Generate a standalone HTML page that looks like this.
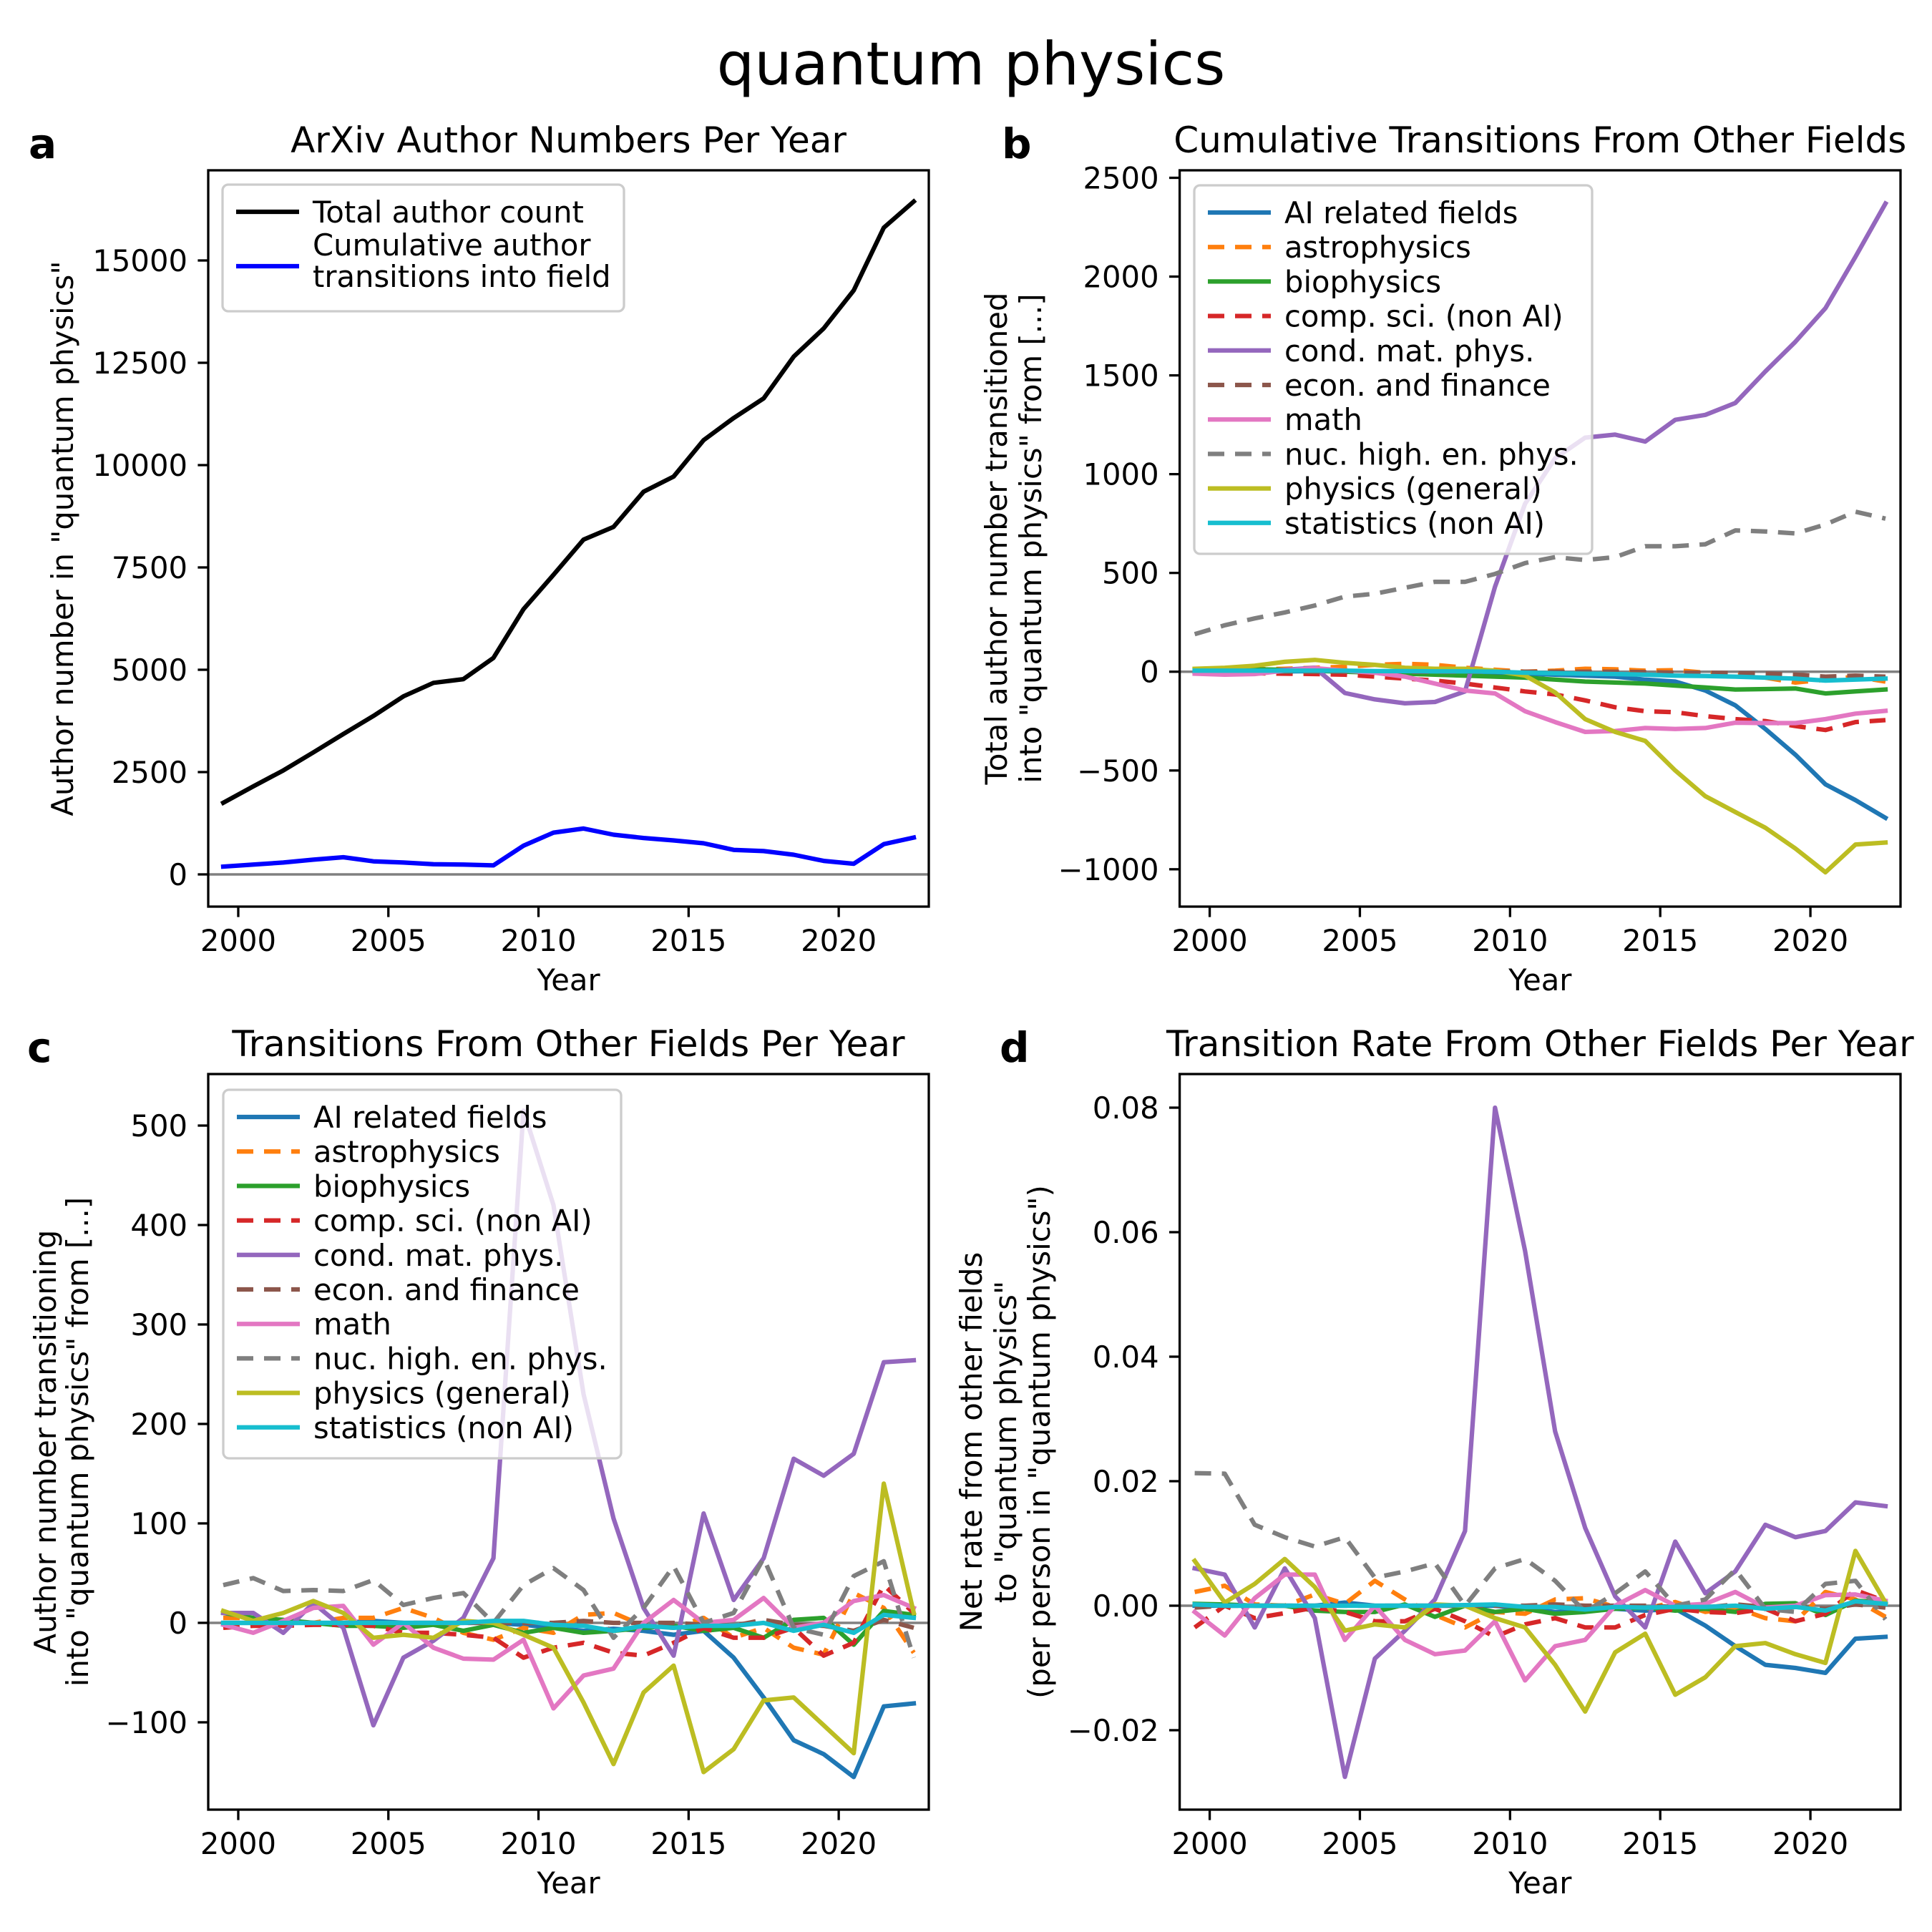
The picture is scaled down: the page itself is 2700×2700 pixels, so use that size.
<!DOCTYPE html>
<html><head><meta charset="utf-8"><style>
html,body{margin:0;padding:0;background:#fff;}
svg{display:block;font-family:"DejaVu Sans","Liberation Sans",sans-serif;}
</style></head><body>
<svg id="fig" width="2700" height="2700" viewBox="0 0 2700 2700" xmlns="http://www.w3.org/2000/svg">
<rect width="2700" height="2700" fill="#fff"/>
<text x="1357" y="118" font-size="83" text-anchor="middle">quantum physics</text>
</svg>
<script>
const years=[1999.5,2000.5,2001.5,2002.5,2003.5,2004.5,2005.5,2006.5,2007.5,2008.5,2009.5,2010.5,2011.5,2012.5,2013.5,2014.5,2015.5,2016.5,2017.5,2018.5,2019.5,2020.5,2021.5,2022.5];
const xTicks=[2000,2005,2010,2015,2020];
const fieldNames=["AI related fields","astrophysics","biophysics","comp. sci. (non AI)","cond. mat. phys.","econ. and finance","math","nuc. high. en. phys.","physics (general)","statistics (non AI)"];
// panel a
const totalAuthors=[1750,2150,2540,2980,3430,3870,4350,4680,4770,5290,6480,7320,8180,8490,9350,9720,10610,11150,11630,12650,13340,14270,15800,16440];
const cumTransitions=[190,240,290,360,420,320,290,250,240,220,700,1020,1120,970,890,830,760,600,570,480,330,260,740,900];
const aTicks=[0,2500,5000,7500,10000,12500,15000];
// panel b (cumulative)
const bAI=[0,0,0,2,3,2,0,0,0,0,-5,-10,-15,-20,-25,-40,-50,-95,-170,-290,-420,-570,-650,-740];
const bAstro=[5,10,12,15,20,25,35,40,35,20,10,0,5,15,12,5,8,-5,-15,-30,-55,-40,-25,-50];
const bBio=[10,12,12,10,5,0,-5,-10,-15,-20,-25,-30,-40,-50,-55,-60,-70,-80,-90,-88,-85,-110,-100,-90];
const bComp=[-3,-5,-8,-10,-12,-15,-25,-35,-45,-60,-80,-100,-115,-145,-180,-200,-205,-225,-240,-250,-275,-295,-255,-245];
const bCond=[0,-10,-5,10,20,-108,-140,-160,-153,-100,430,850,1080,1185,1200,1165,1275,1300,1360,1520,1670,1840,2100,2370];
const bEcon=[0,0,0,0,0,0,0,0,0,0,0,0,0,0,0,-2,-5,-5,-8,-10,-15,-25,-20,-25];
const bMath=[-10,-15,-12,5,18,5,-5,-25,-60,-95,-110,-200,-255,-305,-300,-285,-290,-285,-258,-260,-260,-240,-212,-198];
const bNuc=[190,235,270,300,335,380,395,425,455,455,495,550,580,565,580,635,635,645,715,710,700,745,810,775];
const bPhys=[15,20,30,50,60,45,35,20,15,15,5,-20,-105,-240,-305,-350,-500,-630,-710,-790,-895,-1015,-875,-865];
const bStat=[5,5,5,5,5,5,3,3,2,2,0,-5,-8,-10,-12,-15,-20,-22,-25,-30,-35,-45,-40,-35];
const bTicks=[-1000,-500,0,500,1000,1500,2000,2500];
// panel c (per year)
const cAI=[0,0,0,0,0,2,0,0,0,0,-2,-5,-8,-6,-8,-12,-8,-35,-75,-118,-132,-155,-84,-81];
const cAstro=[5,5,2,0,5,5,15,5,-10,-17,-5,-10,8,10,-3,-5,5,-15,-5,-25,-32,30,15,-30];
const cBio=[10,5,3,0,-3,-3,-5,-2,-8,-2,-10,-5,-10,-8,-5,-3,-8,-5,-15,3,5,-22,12,8];
const cComp=[-5,-3,-3,-2,-2,-3,-10,-10,-12,-15,-35,-25,-20,-30,-33,-20,-5,-15,-15,-5,-33,-20,38,10];
const cCond=[10,10,-10,20,-5,-103,-35,-18,5,65,515,420,230,105,15,-33,110,23,65,165,148,170,262,264];
const cEcon=[0,0,0,0,0,0,0,0,0,0,0,0,2,0,0,0,-2,-3,3,-2,-3,-8,3,-5];
const cMath=[-2,-10,2,15,17,-22,0,-25,-36,-37,-17,-86,-53,-46,0,23,0,3,25,-5,0,22,28,15];
const cNuc=[38,45,32,33,32,43,18,25,30,0,38,55,33,-15,15,57,0,10,65,-5,-12,47,62,-35];
const cPhys=[12,2,10,22,10,-15,-12,-15,2,0,-12,-25,-80,-142,-70,-43,-150,-127,-78,-75,-103,-131,140,10];
const cStat=[0,0,0,0,0,0,0,0,0,2,2,-2,-3,-8,-3,-5,-3,-3,0,-8,-2,-10,8,5];
const cTicks=[-100,0,100,200,300,400,500];
// panel d (rate)
const dAI=[0,0,0,0,0,0.0005,0,0,0,0,0,-0.0005,-0.001,-0.0008,-0.0005,-0.0008,-0.0005,-0.0032,-0.0065,-0.0095,-0.01,-0.0108,-0.0053,-0.005];
const dAstro=[0.0022,0.0032,0.0002,0,0.0018,0.0003,0.004,0.001,-0.0015,-0.0035,-0.001,-0.0013,0.001,0.0012,-0.0002,-0.0005,0.0006,-0.001,-0.0003,-0.002,-0.0025,0.0022,0.001,-0.0018];
const dBio=[0.0003,0.0002,0,0,-0.0008,-0.001,-0.001,0.0002,-0.0018,0,-0.001,-0.0005,-0.0013,-0.001,-0.0005,-0.0003,-0.0008,-0.0005,-0.001,0.0003,0.0004,-0.0015,0.0008,0.0005];
const dComp=[-0.0035,0,-0.002,-0.0012,-0.0003,-0.001,-0.0025,-0.0025,-0.0005,-0.0025,-0.005,-0.003,-0.002,-0.0035,-0.0035,-0.0015,-0.0005,-0.001,-0.0012,-0.0005,-0.0025,-0.0013,0.0025,0.0007];
const dCond=[0.006,0.005,-0.0035,0.006,-0.002,-0.0275,-0.0085,-0.004,0.001,0.012,0.080,0.057,0.028,0.0125,0.0015,-0.0035,0.0103,0.002,0.0055,0.013,0.011,0.012,0.0166,0.016];
const dEcon=[-0.0003,0,0,0,0,0,0,0,0,0,0,0,0.0002,0,0,0,-0.0002,-0.0003,0.0002,-0.0002,-0.0002,-0.0005,0.0002,-0.0003];
const dMath=[-0.001,-0.0048,0.0012,0.005,0.005,-0.0055,0,-0.0055,-0.0078,-0.0072,-0.0025,-0.012,-0.0065,-0.0055,0,0.0025,0,0.0003,0.0022,-0.0003,0,0.0017,0.0018,0.0008];
const dNuc=[0.0213,0.0212,0.013,0.011,0.0095,0.011,0.0045,0.0055,0.0068,0,0.006,0.0075,0.004,-0.001,0.002,0.0055,0,0.001,0.0058,-0.0005,-0.001,0.0035,0.004,-0.0022];
const dPhys=[0.0072,0.0005,0.0035,0.0075,0.003,-0.004,-0.003,-0.0035,0.0002,0,-0.002,-0.0035,-0.0095,-0.017,-0.0075,-0.0045,-0.0143,-0.0115,-0.0065,-0.006,-0.0078,-0.0092,0.0088,0.0005];
const dStat=[0.0002,0,0,0,0,0,0,0,0,0.0001,0.0002,-0.0002,-0.0002,-0.0006,-0.0002,-0.0003,-0.0002,-0.0002,0,-0.0005,-0.0002,-0.0008,0.0007,0.0003];
const dTicks=[-0.02,0,0.02,0.04,0.06,0.08];

const colors=["#1f77b4","#ff7f0e","#2ca02c","#d62728","#9467bd","#8c564b","#e377c2","#7f7f7f","#bcbd22","#17becf"];
const dashed=[false,true,false,true,false,true,false,true,false,false];
const NS="http://www.w3.org/2000/svg";
const fig=document.getElementById('fig');
function el(tag,attrs,parent){const e=document.createElementNS(NS,tag);for(const k in attrs)e.setAttribute(k,attrs[k]);(parent||fig).appendChild(e);return e;}
function slug(s){return s.toLowerCase().replace(/[^a-z0-9]+/g,'-').replace(/^-|-$/g,'');}

function panel(p){
  const g=el('g',{});
  
  
  const W=p.right-p.left,H=p.bottom-p.top;
  const xs=v=>p.left+(v-1999)/24*W;
  const ys=v=>p.bottom-(v-p.ymin)/(p.ymax-p.ymin)*H;
  // zero line
  const z=el('line',{x1:p.left,x2:p.right,y1:ys(0),y2:ys(0),stroke:'#808080','stroke-width':3.5},g);
  
  
  // series
  p.series.forEach(s=>{
    const d=s.vals.map((v,i)=>(i?'L':'M')+xs(years[i]).toFixed(1)+','+ys(v).toFixed(1)).join('');
    const a={d:d,fill:'none',stroke:s.color,'stroke-width':6.25,'stroke-linejoin':'round','stroke-linecap':s.dash?'butt':'square'};
    if(s.dash)a['stroke-dasharray']='23 15';
    const pa=el('path',a,g);
    
    
  });
  // frame
  const fr=el('rect',{x:p.left,y:p.top,width:W,height:H,fill:'none',stroke:'#000','stroke-width':3.3},g);
  
  
  // x ticks
  xTicks.forEach(t=>{
    const x=xs(t);
    el('line',{x1:x,x2:x,y1:p.bottom,y2:p.bottom+14.6,stroke:'#000','stroke-width':3.3},g);
    const tx=el('text',{x:x,y:p.bottom+62,'font-size':41.7,'text-anchor':'middle'},g);
    tx.textContent=String(t);
    
    
  });
  p.yticks.forEach(t=>{
    const y=ys(t);
    el('line',{x1:p.left-14.6,x2:p.left,y1:y,y2:y,stroke:'#000','stroke-width':3.3},g);
    const tx=el('text',{x:p.left-29,y:y+15,'font-size':41.7,'text-anchor':'end'},g);
    tx.textContent=p.fmt(t);
    
    
  });
  const xl=el('text',{x:(p.left+p.right)/2,y:p.bottom+117,'font-size':41.7,'text-anchor':'middle'},g);
  xl.textContent='Year';
  
  
  const cy=(p.top+p.bottom)/2;
  p.ylab.lines.forEach((ln,i)=>{
    const x=p.ylab.xs[i];
    const t=el('text',{x:x,y:cy,'font-size':41.7,'text-anchor':'middle',transform:'rotate(-90 '+x+' '+cy+')'},g);
    t.textContent=ln;
    
    
  });
  const ti=el('text',{x:(p.left+p.right)/2,y:p.top-25,'font-size':50,'text-anchor':'middle'},g);
  ti.textContent=p.title;
  
  
  const lt=el('text',{x:p.letterX,y:p.top-17,'font-size':58,'font-weight':'bold'},g);
  lt.textContent=p.id;
  
  
  // legend
  const L=p.legend;
  const lg=el('g',{},g);
  
  
  el('rect',{x:L.x,y:L.y,width:L.w,height:L.h,rx:8,fill:'rgba(255,255,255,0.8)',stroke:'#cccccc','stroke-width':3.3},lg);
  L.entries.forEach(en=>{
    const la={x1:L.x+19,x2:L.x+107,y1:en.hy,y2:en.hy,stroke:en.color,'stroke-width':6.25};
    if(en.dash)la['stroke-dasharray']='23 15';
    const ln=el('line',la,lg);
    
    
    en.lines.forEach((s,j)=>{
      const t=el('text',{x:L.x+126,y:en.ty+j*44,'font-size':41.7},lg);
      t.textContent=s;
      
      
    });
  });
}
const minus=s=>s.replace('-','\u2212');
function fieldSeries(arrs){return arrs.map((v,i)=>({name:fieldNames[i],vals:v,color:colors[i],dash:dashed[i]}));}
function fieldLegend(x,y){return {x:x,y:y,w:556,h:515,entries:fieldNames.map((n,i)=>({lines:[n],color:colors[i],dash:dashed[i],hy:y+38+i*48.2,ty:y+53+i*48.2}))};}

panel({id:'a',left:291,right:1298,top:238,bottom:1267,ymin:-787,ymax:17203,yticks:aTicks,fmt:t=>String(t),
  series:[{name:'Total author count',vals:totalAuthors,color:'#000',dash:false},{name:'Cumulative author transitions into field',vals:cumTransitions,color:'#0000ff',dash:false}],
  title:'ArXiv Author Numbers Per Year',letterX:40,ylab:{lines:['Author number in "quantum physics"'],xs:[102]},
  legend:{x:311,y:258,w:561,h:177,entries:[{lines:['Total author count'],color:'#000',hy:296,ty:311},{lines:['Cumulative author','transitions into field'],color:'#0000ff',hy:372,ty:357}]}});
panel({id:'b',left:1648.6,right:2656,top:238,bottom:1267,ymin:-1189,ymax:2538,yticks:bTicks,fmt:t=>minus(String(t)),
  series:fieldSeries([bAI,bAstro,bBio,bComp,bCond,bEcon,bMath,bNuc,bPhys,bStat]),
  title:'Cumulative Transitions From Other Fields',letterX:1400,ylab:{lines:['Total author number transitioned','into "quantum physics" from [...]'],xs:[1407,1455]},
  legend:fieldLegend(1669,259)});
panel({id:'c',left:291,right:1298,top:1501,bottom:2529,ymin:-187.8,ymax:551.8,yticks:cTicks,fmt:t=>minus(String(t)),
  series:fieldSeries([cAI,cAstro,cBio,cComp,cCond,cEcon,cMath,cNuc,cPhys,cStat]),
  title:'Transitions From Other Fields Per Year',letterX:38,ylab:{lines:['Author number transitioning','into "quantum physics" from [...]'],xs:[78,123]},
  legend:fieldLegend(312,1523)});
panel({id:'d',left:1648.6,right:2656,top:1501,bottom:2529,ymin:-0.03276,ymax:0.0854,yticks:dTicks,fmt:t=>minus(t.toFixed(2)),
  series:fieldSeries([dAI,dAstro,dBio,dComp,dCond,dEcon,dMath,dNuc,dPhys,dStat]),
  title:'Transition Rate From Other Fields Per Year',letterX:1397,ylab:{lines:['Net rate from other fields','to "quantum physics"','(per person in "quantum physics")'],xs:[1372,1420,1467]},
  legend:{x:0,y:0,w:0,h:0,entries:[]}});
</script>
</body></html>
